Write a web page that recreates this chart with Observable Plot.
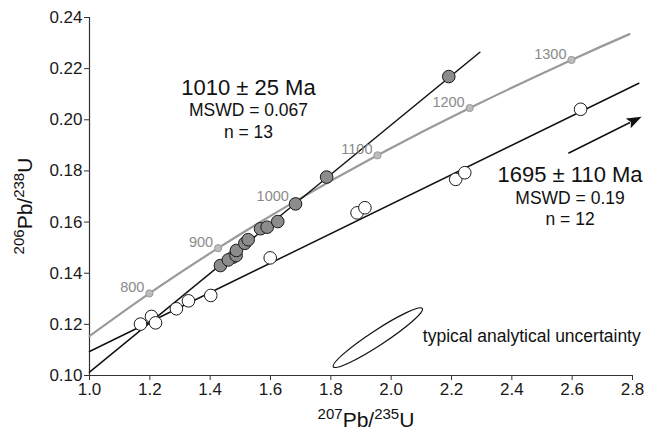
<!DOCTYPE html>
<html><head><meta charset="utf-8">
<script src="https://cdn.jsdelivr.net/npm/d3@7"></script>
<script src="https://cdn.jsdelivr.net/npm/@observablehq/plot@0.6"></script>
<style>
body{margin:0;background:#fff;}
#chart svg{display:block;}
</style></head><body><div id="chart"></div>
<script>
// ---- data ----
const xTicks = [1.0, 1.2, 1.4, 1.6, 1.8, 2.0, 2.2, 2.4, 2.6, 2.8];
const yTicks = [0.10, 0.12, 0.14, 0.16, 0.18, 0.20, 0.22, 0.24];

// concordia curve
const concordiaX = [1.0, 1.1987, 1.4264, 1.6774, 1.9546, 2.2603, 2.5977, 2.79];
const concordiaY = [0.1154, 0.1321, 0.1498, 0.1678, 0.1861, 0.2046, 0.2234, 0.2335];
// labelled age markers on the concordia
const markerAge = ["800", "900", "1000", "1100", "1200", "1300"];
const markerX = [1.1987, 1.4264, 1.6774, 1.9546, 2.2603, 2.5977];
const markerY = [0.1321, 0.1498, 0.1678, 0.1861, 0.2046, 0.2234];

// 1010 Ma population (grey)
const greyX = [1.476, 1.434, 1.460, 1.486, 1.487, 1.515, 1.526, 1.567, 1.589, 1.624, 1.683, 1.786, 2.191];
const greyY = [0.1463, 0.1430, 0.1452, 0.1469, 0.1489, 0.1517, 0.1531, 0.1574, 0.1580, 0.1602, 0.1671, 0.1776, 0.2169];
// 1695 Ma population (white)
const whiteX = [1.169, 1.2055, 1.219, 1.288, 1.328, 1.402, 1.599, 1.887, 1.913, 2.214, 2.244, 2.628];
const whiteY = [0.1201, 0.1231, 0.1206, 0.1261, 0.1292, 0.1313, 0.1460, 0.1636, 0.1656, 0.1767, 0.1793, 0.2041];

// discordia regression lines
const line1010X = [1.0, 2.294];
const line1010Y = [0.1013, 0.2264];
const line1695X = [1.0, 2.821];
const line1695Y = [0.1094, 0.2143];

// arrow (tail, head)
const arrowX = [2.589, 2.832];
const arrowY = [0.1867, 0.2010];

// uncertainty ellipse: ends of its long axis, and short/long axis ratio
const ellipseX = [1.810, 2.105];
const ellipseY = [0.1032, 0.1260];
const ellipseRatio = 0.14;

// annotations
const headText = ["1010 ± 25 Ma", "1695 ± 110 Ma"];
const headX = [1.527, 2.593];
const headY = [0.2095, 0.1756];
const statText = ["MSWD = 0.067", "n = 13", "MSWD = 0.19", "n = 12"];
const statX = [1.527, 1.527, 2.593, 2.593];
const statY = [0.2014, 0.1930, 0.1669, 0.1589];
const noteText = ["typical analytical uncertainty"];
const noteX = [2.105];
const noteY = [0.1130];

// ---- tables ----
const zip = (xs, ys, extra) => xs.map((x, i) => Object.assign({x, y: ys[i]}, extra ? extra(i) : {}));
const concordia = zip(concordiaX, concordiaY);
const markers = zip(markerX, markerY, i => ({label: markerAge[i]}));
const grey = zip(greyX, greyY);
const white = zip(whiteX, whiteY);
const line1010 = zip(line1010X, line1010Y);
const line1695 = zip(line1695X, line1695Y);
const heads = zip(headX, headY, i => ({text: headText[i]}));
const stats = zip(statX, statY, i => ({text: statText[i]}));
const notes = zip(noteX, noteY, i => ({text: noteText[i]}));

function arrowMark(index, scales) {
  const g = d3.create("svg:g");
  const x0 = scales.x(arrowX[0]), y0 = scales.y(arrowY[0]);
  const x1 = scales.x(arrowX[1]), y1 = scales.y(arrowY[1]);
  const a = Math.atan2(y1 - y0, x1 - x0);
  const L = 15, W = 5.5;
  const bx = x1 - L * Math.cos(a), by = y1 - L * Math.sin(a);
  g.append("line").attr("x1", x0).attr("y1", y0).attr("x2", bx + 2 * Math.cos(a)).attr("y2", by + 2 * Math.sin(a))
    .attr("stroke", "#111").attr("stroke-width", 1.5);
  const nx = -Math.sin(a), ny = Math.cos(a);
  const cx = x1 - (L - 3) * Math.cos(a), cy = y1 - (L - 3) * Math.sin(a);
  g.append("path")
    .attr("d", `M${x1},${y1}L${bx + W * nx},${by + W * ny}L${cx},${cy}L${bx - W * nx},${by - W * ny}Z`)
    .attr("fill", "#111");
  return g.node();
}

function ellipseMark(index, scales) {
  const g = d3.create("svg:g");
  const x0 = scales.x(ellipseX[0]), y0 = scales.y(ellipseY[0]);
  const x1 = scales.x(ellipseX[1]), y1 = scales.y(ellipseY[1]);
  const cx = (x0 + x1) / 2, cy = (y0 + y1) / 2;
  const rx = Math.hypot(x1 - x0, y1 - y0) / 2;
  const ang = Math.atan2(y1 - y0, x1 - x0) * 180 / Math.PI;
  g.append("ellipse").attr("cx", 0).attr("cy", 0).attr("rx", rx).attr("ry", rx * ellipseRatio)
    .attr("transform", `translate(${cx},${cy}) rotate(${ang})`)
    .attr("fill", "none").attr("stroke", "#111").attr("stroke-width", 1.2);
  return g.node();
}

const font = "'Liberation Sans', Arial, Helvetica, sans-serif";

const chart = Plot.plot({
  width: 661,
  height: 431,
  marginLeft: 89,
  marginRight: 29,
  marginTop: 17,
  marginBottom: 56,
  style: {fontFamily: font, fontSize: "17px", color: "#1a1a1a", background: "#fff", overflow: "visible"},
  x: {domain: [1.0, 2.8]},
  y: {domain: [0.10, 0.24]},
  marks: [
    Plot.axisX({ticks: xTicks, tickFormat: d3.format(".1f"), tickSize: 5, tickPadding: 2, label: null, fontSize: 17, stroke: "#333"}),
    Plot.axisY({ticks: yTicks, tickFormat: d3.format(".2f"), tickSize: 5, tickPadding: 2, label: null, fontSize: 17, stroke: "#333"}),
    Plot.ruleX([xTicks[0]], {stroke: "#333", strokeWidth: 1.2}),
    Plot.ruleY([yTicks[0]], {stroke: "#333", strokeWidth: 1.2}),
    Plot.line(concordia, {x: "x", y: "y", stroke: "#9a9a9a", strokeWidth: 2.2, curve: "natural"}),
    Plot.line(line1010, {x: "x", y: "y", stroke: "#111", strokeWidth: 1.5}),
    Plot.line(line1695, {x: "x", y: "y", stroke: "#111", strokeWidth: 1.5}),
    Plot.dot(markers, {x: "x", y: "y", r: 3.6, fill: "#bdbdbd", stroke: "#9a9a9a", strokeWidth: 1}),
    Plot.text(markers, {x: "x", y: "y", text: "label", textAnchor: "end", lineAnchor: "bottom", dx: -5, dy: -1, fill: "#8a8a8a", fontSize: 14.5}),
    Plot.dot(grey, {x: "x", y: "y", r: 6.3, fill: "#8c8c8c", stroke: "#1a1a1a", strokeWidth: 1}),
    Plot.dot(white, {x: "x", y: "y", r: 6.3, fill: "#fff", stroke: "#1a1a1a", strokeWidth: 1}),
    ellipseMark,
    arrowMark,
    Plot.text(heads, {x: "x", y: "y", text: "text", textAnchor: "middle", lineAnchor: "bottom", fontSize: 22, fill: "#111"}),
    Plot.text(stats, {x: "x", y: "y", text: "text", textAnchor: "middle", lineAnchor: "bottom", fontSize: 17.5, fill: "#111"}),
    Plot.text(notes, {x: "x", y: "y", text: "text", textAnchor: "start", lineAnchor: "bottom", fontSize: 17.5, fill: "#111"})
  ]
});

// axis titles with superscript isotope masses
const svg = d3.select(chart);
function isoLabel(sel, parts) {
  parts.forEach(([t, sup]) => {
    sel.append("tspan").attr("font-size", sup ? 15 : 21).attr("dy", sup ? -8 : 8).text(t);
  });
}
const xl = svg.append("text").attr("x", 366).attr("y", 427).attr("text-anchor", "middle")
  .attr("font-family", font).attr("font-size", 21).attr("fill", "#111");
isoLabel(xl, [["207", true], ["Pb/", false], ["235", true], ["U", false]]);
const yl = svg.append("text").attr("transform", "translate(32,206) rotate(-90)").attr("text-anchor", "middle")
  .attr("font-family", font).attr("font-size", 21).attr("fill", "#111");
isoLabel(yl, [["206", true], ["Pb/", false], ["238", true], ["U", false]]);

document.getElementById("chart").appendChild(chart);
</script>
</body></html>
